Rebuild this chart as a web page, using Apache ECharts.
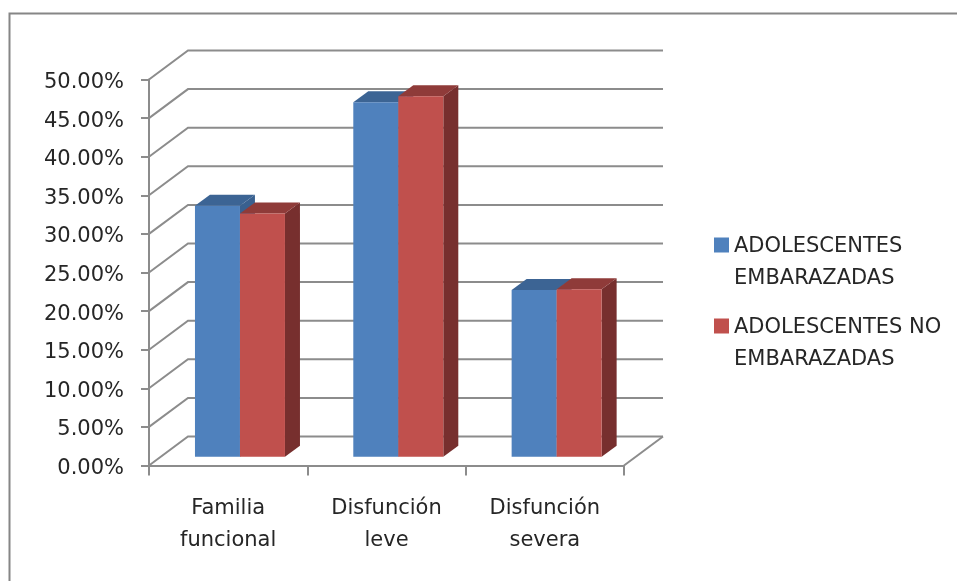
<!DOCTYPE html>
<html>
<head>
<meta charset="utf-8">
<style>html,body{margin:0;padding:0;background:#fff}#c{width:957px;height:581px}</style>
<script src="https://cdn.jsdelivr.net/npm/echarts@6/dist/echarts.min.js"></script>
</head>
<body>
<div id="c"></div>
<script>
const categories = ['Familia\nfuncional', 'Disfunción\nleve', 'Disfunción\nsevera'];
const seriesNames = ['ADOLESCENTES\nEMBARAZADAS', 'ADOLESCENTES NO\nEMBARAZADAS'];
const embarazadas = [32.5, 45.9, 21.6];
const noEmbarazadas = [31.5, 46.7, 21.7];
const gridValues = [0, 5, 10, 15, 20, 25, 30, 35, 40, 45, 50];

const FONT = '"DejaVu Sans"';
const GRAY = '#8c8c8c';
const TEXT = '#262626';

// Oblique projection of the picture's depth axis
const WALL = { dx: 39, dy: -29 };
const BAR_FRONT = { dx: 11.8, dy: -8.8 };
const BAR_DEPTH = { dx: 15, dy: -11 };
const BAR_W = 45;

function wallItem(params, api) {
  const cs = params.coordSys;
  const v = api.value(0);
  const y = api.coord([0, v])[1];
  const xl = cs.x, xr = cs.x + cs.width;
  const children = [{
    type: 'polyline',
    shape: { points: [[xl, y], [xl + WALL.dx, y + WALL.dy], [xr + WALL.dx, y + WALL.dy]] },
    style: { stroke: GRAY, lineWidth: 2, fill: null }
  }];
  if (v === 0) {
    children.push({
      type: 'line',
      shape: { x1: xr, y1: y, x2: xr + WALL.dx, y2: y + WALL.dy },
      style: { stroke: GRAY, lineWidth: 2 }
    });
  }
  return { type: 'group', children };
}

function barRenderer(offsetSign, front, top, side) {
  return function (params, api) {
    const cat = api.value(0), val = api.value(1);
    const p = api.coord([cat, val]);
    const b = api.coord([cat, 0]);
    const xl = p[0] + BAR_FRONT.dx + (offsetSign < 0 ? -BAR_W : 0);
    const xr = xl + BAR_W;
    const yt = p[1] + BAR_FRONT.dy;
    const yb = b[1] + BAR_FRONT.dy;
    const d = BAR_DEPTH;
    return {
      type: 'group',
      children: [
        { type: 'polygon', shape: { points: [[xr, yt], [xr + d.dx, yt + d.dy], [xr + d.dx, yb + d.dy], [xr, yb]] }, style: { fill: side } },
        { type: 'polygon', shape: { points: [[xl, yt], [xl + d.dx, yt + d.dy], [xr + d.dx, yt + d.dy], [xr, yt]] }, style: { fill: top } },
        { type: 'rect', shape: { x: xl, y: yt, width: BAR_W, height: yb - yt }, style: { fill: front } }
      ]
    };
  };
}

const chart = echarts.init(document.getElementById('c'), null, { renderer: 'canvas' });
chart.setOption({
  animation: false,
  backgroundColor: '#fff',
  graphic: [{
    type: 'polyline', silent: true,
    shape: { points: [[9.5, 581], [9.5, 13.5], [957, 13.5]] },
    style: { stroke: '#868686', lineWidth: 2, fill: null }
  }],
  grid: { left: 149, top: 79.5, width: 475, height: 386 },
  legend: {
    orient: 'vertical', left: 714, top: 195, padding: 0, itemWidth: 15, itemHeight: 15, itemGap: -19,
    icon: 'rect', selectedMode: false,
    data: seriesNames,
    formatter: name => '{s| }\n' + name,
    textStyle: {
      fontFamily: FONT, fontSize: 21, color: TEXT, lineHeight: 32,
      rich: { s: { lineHeight: 36, fontSize: 21, fontFamily: FONT } }
    }
  },
  xAxis: {
    type: 'category', data: categories,
    axisLine: { lineStyle: { color: GRAY, width: 2 } },
    axisTick: { show: true, length: 10, alignWithLabel: false, lineStyle: { color: GRAY, width: 2 } },
    axisLabel: { fontFamily: FONT, fontSize: 21, color: TEXT, lineHeight: 32, margin: 27, interval: 0 },
    splitLine: { show: false }
  },
  yAxis: {
    type: 'value', min: 0, max: 50, interval: 5,
    axisLine: { show: true, lineStyle: { color: GRAY, width: 2 } },
    axisTick: { show: true, length: 8, lineStyle: { color: GRAY, width: 2 } },
    axisLabel: { fontFamily: FONT, fontSize: 21, color: TEXT, margin: 25, verticalAlign: 'top', lineHeight: 6, formatter: v => v.toFixed(2) + '%' },
    splitLine: { show: false }
  },
  series: [
    {
      type: 'custom', name: '_wall', z: 1, silent: true, clip: false,
      renderItem: wallItem,
      encode: { y: 0 },
      data: gridValues.map(v => [v])
    },
    {
      type: 'custom', name: seriesNames[0], z: 2, clip: false,
      itemStyle: { color: '#4F81BD' },
      renderItem: barRenderer(-1, '#4F81BD', '#3C6494', '#39608F'),
      encode: { x: 0, y: 1 },
      data: embarazadas.map((v, i) => [i, v])
    },
    {
      type: 'custom', name: seriesNames[1], z: 3, clip: false,
      itemStyle: { color: '#C0504D' },
      renderItem: barRenderer(1, '#C0504D', '#8F3B39', '#772F2E'),
      encode: { x: 0, y: 1 },
      data: noEmbarazadas.map((v, i) => [i, v])
    }
  ]
});
</script>
</body>
</html>
